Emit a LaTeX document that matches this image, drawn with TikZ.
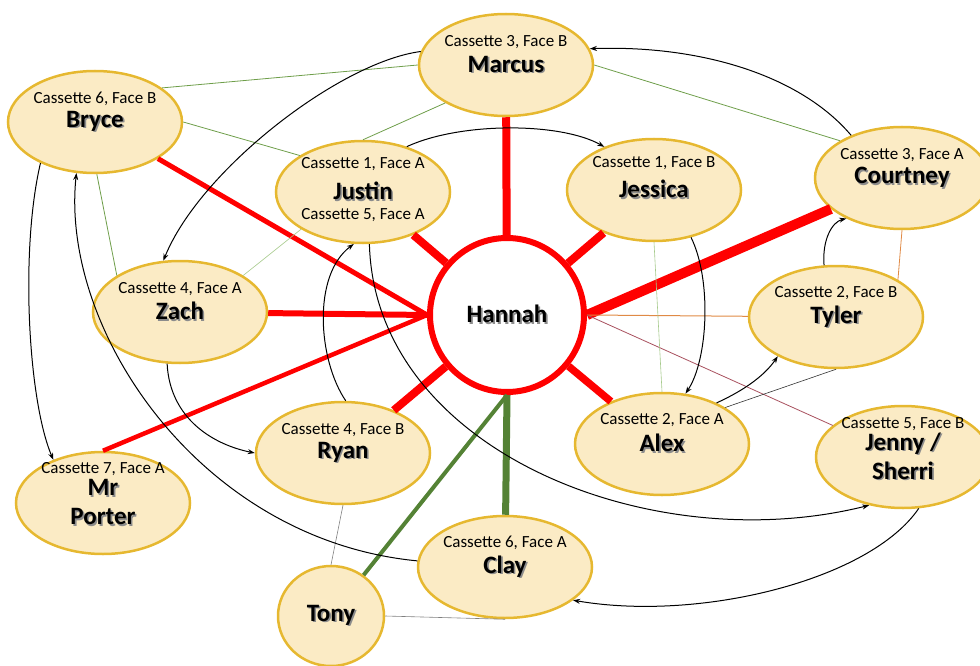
\documentclass[tikz,border=0pt]{standalone}
\usepackage{fontspec}
\setmainfont{Carlito}
\usetikzlibrary{shapes.geometric,arrows.meta}

\definecolor{nodefill}{HTML}{FBEBC5}
\definecolor{nodeedge}{HTML}{E6B830}
\definecolor{spokered}{HTML}{FF0000}
\definecolor{spokegreen}{HTML}{548235}
\definecolor{linkgreen}{HTML}{6E9E4A}
\definecolor{palegreen}{HTML}{A5C98A}
\definecolor{linkorange}{HTML}{E08A45}
\definecolor{linkrose}{HTML}{A8505E}

% name with a soft drop shadow
\newcommand{\shadowname}[1]{\rlap{\kern1.6pt\raisebox{-1.6pt}{\textcolor{black!45}{#1}}}#1}

\tikzset{
  person/.style={ellipse, draw=nodeedge, line width=2.5pt, fill=nodefill,
    minimum width=174pt, minimum height=102pt, inner sep=0pt,
    font=\fontsize{25}{29}\selectfont\bfseries, align=center},
  hub/.style={circle, draw=spokered, line width=6pt, fill=white,
    minimum size=154pt, inner sep=0pt, font=\fontsize{25}{29}\selectfont\bfseries},
  cass/.style={font=\fontsize{17}{19}\selectfont, inner sep=0pt},
  spoke/.style={spokered},
  link/.style={linkgreen, line width=0.8pt},
  arr/.style={-{Stealth[length=7pt,width=5pt]}, line width=1pt},
}

\begin{document}
\begin{tikzpicture}[x=1pt,y=-1pt]
    \useasboundingbox (0,0) rectangle (980,666);
    \node[hub] (hannah) at (507,315) {\shadowname{Hannah}};
    \node[person] (marcus) at (506,65) {\shadowname{Marcus}};
    \node[person] (bryce) at (95,122) {\shadowname{Bryce}};
    \node[person] (justin) at (363,192) {\shadowname{Justin}};
    \node[person] (jessica) at (654,190) {\shadowname{Jessica}};
    \node[person] (courtney) at (902,178) {\shadowname{Courtney}};
    \node[person] (zach) at (180,312) {\shadowname{Zach}};
    \node[person] (tyler) at (836,317) {\shadowname{Tyler}};
    \node[person] (ryan) at (343,453) {\shadowname{Ryan}};
    \node[person] (alex) at (662,444) {\shadowname{Alex}};
    \node[person] (jenny) at (903,457) {\shadowname{Jenny /}\\\shadowname{Sherri}};
    \node[person] (porter) at (103,503) {\shadowname{Mr}\\\shadowname{Porter}};
    \node[person] (clay) at (505,567) {\shadowname{Clay}};
    \node[person, minimum width=106pt, minimum height=100pt] (tony) at (331,616) {\shadowname{Tony}};

    % tape labels
    \node[cass] (marcus-tape) at ([yshift=23]marcus.center) {Cassette 3, Face B};
    \node[cass] (bryce-tape) at ([yshift=23]bryce.center) {Cassette 6, Face B};
    \node[cass] (justin-tape) at ([yshift=28]justin.center) {Cassette 1, Face A};
    \node[cass] (justin-tape2) at ([yshift=-23]justin.center) {Cassette 5, Face A};
    \node[cass] (jessica-tape) at ([yshift=27]jessica.center) {Cassette 1, Face B};
    \node[cass] (courtney-tape) at ([yshift=23]courtney.center) {Cassette 3, Face A};
    \node[cass] (zach-tape) at ([yshift=23]zach.center) {Cassette 4, Face A};
    \node[cass] (tyler-tape) at ([yshift=24]tyler.center) {Cassette 2, Face B};
    \node[cass] (ryan-tape) at ([yshift=23]ryan.center) {Cassette 4, Face B};
    \node[cass] (alex-tape) at ([yshift=24]alex.center) {Cassette 2, Face A};
    \node[cass] (jenny-tape) at ([yshift=33]jenny.center) {Cassette 5, Face B};
    \node[cass] (porter-tape) at ([yshift=34]porter.center) {Cassette 7, Face A};
    \node[cass] (clay-tape) at ([yshift=24]clay.center) {Cassette 6, Face A};

    % ties to Hannah
    \draw[spoke, line width=8pt] (hannah) -- (marcus);
    \draw[spoke, line width=8pt] (hannah) -- (justin);
    \draw[spoke, line width=8pt] (hannah) -- (jessica);
    \draw[spoke, line width=10pt] (hannah.east) -- (courtney);
    \draw[spoke, line width=6pt] (hannah.west) -- (zach);
    \draw[spoke, line width=5pt] (hannah.west) -- (bryce);
    \draw[spoke, line width=4.5pt] (hannah.west) -- (porter.north);
    \draw[spoke, line width=8pt] (hannah) -- (ryan);
    \draw[spoke, line width=7.5pt] (hannah) -- (alex);
    \draw[spokegreen, line width=7pt] (hannah.south) -- (clay);
    \draw[spokegreen, line width=4pt] (hannah.south) -- (tony);
    \draw[linkorange, line width=1pt] (hannah.east) -- (tyler);
    \draw[linkrose, line width=0.8pt] (hannah.east) -- (jenny);

    % thin links
    \draw[link] (bryce.27) -- (marcus.west);
    \draw[link] (bryce.east) -- (justin.150);
    \draw[link] (bryce.272) -- (zach.150);
    \draw[link] (marcus.212) -- (justin.north);
    \draw[link] (marcus.east) -- (courtney.149);
    \draw[palegreen, line width=0.6pt] (justin.211) -- (zach.30);
    \draw[palegreen, line width=0.6pt] (jessica.south) -- (alex.north);
    \draw[linkorange, line width=0.8pt] (courtney.south) -- (tyler.31);
    \draw[gray, line width=0.6pt] (ryan.south) -- (tony.north);
    \draw[gray, line width=0.6pt] (tony.east) -- (clay.south);
    \draw[black!80, line width=0.6pt] (tyler.south) -- (alex.30);

    % the tapes passed on
    \draw[arr] (marcus.171) .. controls (340,62) and (200,170) .. (zach.108);
    \draw[arr] (justin.46) .. controls (460,122) and (560,122) .. (jessica.139);
    \draw[arr] (courtney.140) .. controls (800,75) and (700,45) .. (marcus.11);
    \draw[arr] (tyler.103) .. controls (822,240) and (832,222) .. (courtney.216);
    \draw[arr] (jessica.308) .. controls (712,280) and (708,360) .. (alex.65);
    \draw[arr] (alex.37) .. controls (745,390) and (765,375) .. (tyler.214);
    \draw[arr] (bryce.217) .. controls (20,250) and (28,400) .. (porter.139);
    \draw[arr] (clay.176) .. controls (200,540) and (60,330) .. (bryce.250);
    \draw[arr] (zach.256) .. controls (170,420) and (215,445) .. (ryan.west);
    \draw[arr] (ryan.87) .. controls (318,360) and (312,275) .. (justin.260);
    \draw[arr] (justin.277) .. controls (375,450) and (650,560) .. (jenny.235);
    \draw[arr] (jenny.287) .. controls (870,580) and (700,622) .. (clay.334);
\end{tikzpicture}
\end{document}
